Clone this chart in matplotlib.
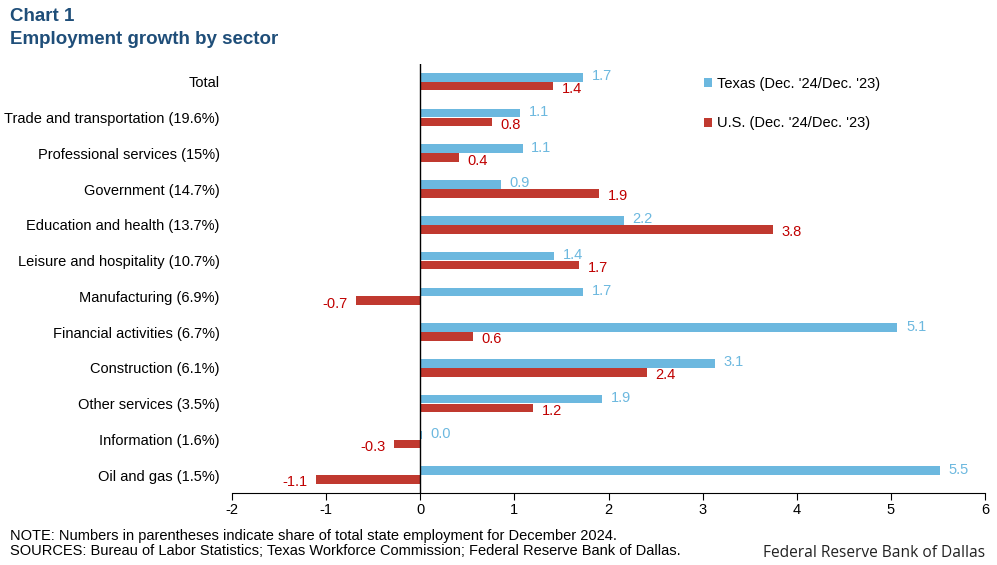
import numpy as np
import matplotlib.pyplot as plt

# Sectors (top to bottom) and growth rates, percent
sectors = ["Total", "Trade and transportation (19.6%)", "Professional services (15%)",
           "Government (14.7%)", "Education and health (13.7%)", "Leisure and hospitality (10.7%)",
           "Manufacturing (6.9%)", "Financial activities (6.7%)", "Construction (6.1%)",
           "Other services (3.5%)", "Information (1.6%)", "Oil and gas (1.5%)"]
texas = [1.73, 1.06, 1.09, 0.86, 2.16, 1.42, 1.73, 5.07, 3.13, 1.93, 0.02, 5.52]
us = [1.41, 0.76, 0.41, 1.90, 3.75, 1.69, -0.68, 0.56, 2.41, 1.20, -0.28, -1.11]

tx_color = "#6CB8DF"
us_color = "#C0392F"
title_color = "#1F4E79"

plt.rcParams['font.family'] = ['Liberation Sans', 'DejaVu Sans']
plt.rcParams['axes.unicode_minus'] = False

fig = plt.figure(figsize=(9.97, 5.65), dpi=100)
ax = fig.add_axes([0.2327, 0.1274, 0.7553, 0.7596])

y = np.arange(len(sectors))
h = 0.24
off = 0.125
ax.barh(y - off, texas, height=h, color=tx_color, label="Texas (Dec. '24/Dec. '23)")
ax.barh(y + off, us, height=h, color=us_color, label="U.S. (Dec. '24/Dec. '23)")

# value labels
for i, (t, u) in enumerate(zip(texas, us)):
    ax.text(t + 0.09 if t >= 0 else t - 0.09, i - off - 0.03, f"{t:.1f}",
            ha="left" if t >= 0 else "right", va="center", color=tx_color, fontsize=10.5)
    ax.text(u + 0.09 if u >= 0 else u - 0.09, i + off + 0.08, f"{u:.1f}",
            ha="left" if u >= 0 else "right", va="center", color="#C00000", fontsize=10.5)

ax.set_xlim(-2, 6)
ax.set_ylim(len(sectors) - 0.5, -0.5)
ax.set_xticks(range(-2, 7))
ax.set_yticks(y)
ax.set_yticklabels(sectors, fontsize=10.5)
ax.tick_params(axis="y", length=0, pad=9)
ax.tick_params(axis="x", length=5, labelsize=10.5, pad=2)
for s in ["top", "right", "left"]:
    ax.spines[s].set_visible(False)
ax.axvline(0, color="black", lw=1)

ax.legend(loc="upper left", bbox_to_anchor=(0.61, 1.0), frameon=False, fontsize=10.5,
          handlelength=0.55, handleheight=0.55, handletextpad=0.3, labelspacing=1.75)

fig.text(0.01, 0.985, "Chart 1", fontsize=13.5, fontweight="bold", color=title_color, va="top")
fig.text(0.01, 0.945, "Employment growth by sector", fontsize=13.5, fontweight="bold",
         color=title_color, va="top")
fig.text(0.01, 0.052, "NOTE: Numbers in parentheses indicate share of total state employment for December 2024.",
         fontsize=10.5, va="center")
fig.text(0.01, 0.024, "SOURCES: Bureau of Labor Statistics; Texas Workforce Commission; Federal Reserve Bank of Dallas.",
         fontsize=10.5, va="center")
fig.text(0.988, 0.022, "Federal Reserve Bank of Dallas", fontsize=11.2, ha="right", va="center",
         family=["Open Sans", "DejaVu Sans"], color="#222222")

fig.savefig("out.png", dpi=100)
